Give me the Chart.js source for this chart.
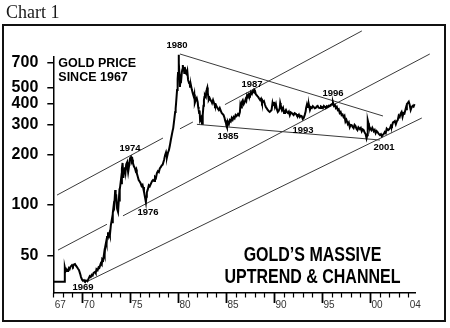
<!DOCTYPE html>
<html>
<head>
<meta charset="utf-8">
<script src="https://cdn.jsdelivr.net/npm/chart.js@4"></script>
<style>
  html, body { margin: 0; padding: 0; background: #fff; }
  canvas { display: block; }
</style>
</head>
<body>
<canvas id="gold" width="450" height="328"></canvas>
<script>
// Gold price since 1967 (US$/oz, log scale): dates as decimal years, prices row for row.
const priceDates = [
  1967.00, 1968.15, 1968.20, 1968.28, 1968.35, 1968.45, 1968.53, 1968.62, 1968.70, 1968.80,
  1968.95, 1969.05, 1969.15, 1969.26, 1969.36, 1969.47, 1969.58, 1969.68, 1969.80, 1969.89,
  1970.00, 1970.10, 1970.20, 1970.30, 1970.40, 1970.55, 1970.68, 1970.80, 1970.90, 1971.00,
  1971.10, 1971.20, 1971.35, 1971.42, 1971.50, 1971.62, 1971.72, 1971.80, 1971.95, 1972.05,
  1972.10, 1972.20, 1972.30, 1972.35, 1972.40, 1972.50, 1972.55, 1972.60, 1972.70, 1972.78,
  1972.85, 1972.90, 1973.00, 1973.10, 1973.15, 1973.20, 1973.30, 1973.35, 1973.45, 1973.50,
  1973.55, 1973.65, 1973.75, 1973.85, 1973.90, 1973.95, 1974.05, 1974.10, 1974.15, 1974.22,
  1974.27, 1974.30, 1974.40, 1974.47, 1974.53, 1974.60, 1974.70, 1974.75, 1974.80, 1974.90,
  1975.00, 1975.10, 1975.18, 1975.25, 1975.30, 1975.40, 1975.50, 1975.58, 1975.65, 1975.70,
  1975.80, 1975.90, 1976.00, 1976.10, 1976.20, 1976.30, 1976.35, 1976.45, 1976.55, 1976.65,
  1976.70, 1976.75, 1976.85, 1976.95, 1977.05, 1977.20, 1977.30, 1977.40, 1977.50, 1977.60,
  1977.70, 1977.80, 1977.90, 1978.00, 1978.10, 1978.20, 1978.30, 1978.40, 1978.45, 1978.55,
  1978.65, 1978.75, 1978.85, 1978.95, 1979.05, 1979.15, 1979.25, 1979.35, 1979.45, 1979.50,
  1979.60, 1979.70, 1979.75, 1979.80, 1979.90, 1979.96, 1980.00, 1980.06, 1980.10, 1980.15,
  1980.20, 1980.25, 1980.30, 1980.40, 1980.45, 1980.50, 1980.55, 1980.60, 1980.65, 1980.70,
  1980.75, 1980.80, 1980.90, 1980.97, 1981.05, 1981.15, 1981.20, 1981.25, 1981.35, 1981.45,
  1981.55, 1981.65, 1981.70, 1981.75, 1981.85, 1981.95, 1982.05, 1982.10, 1982.15, 1982.20,
  1982.25, 1982.30, 1982.40, 1982.45, 1982.50, 1982.55, 1982.60, 1982.65, 1982.70, 1982.75,
  1982.80, 1982.90, 1982.95, 1983.00, 1983.05, 1983.10, 1983.15, 1983.20, 1983.30, 1983.40,
  1983.50, 1983.55, 1983.65, 1983.75, 1983.85, 1983.95, 1984.05, 1984.15, 1984.25, 1984.35,
  1984.45, 1984.55, 1984.65, 1984.75, 1984.85, 1984.90, 1985.00, 1985.05, 1985.10, 1985.15,
  1985.20, 1985.30, 1985.40, 1985.50, 1985.60, 1985.70, 1985.80, 1985.90, 1986.00, 1986.10,
  1986.25, 1986.35, 1986.45, 1986.50, 1986.58, 1986.65, 1986.75, 1986.85, 1986.95, 1987.05,
  1987.12, 1987.20, 1987.30, 1987.40, 1987.50, 1987.60, 1987.70, 1987.80, 1987.90, 1987.95,
  1988.00, 1988.10, 1988.20, 1988.30, 1988.35, 1988.45, 1988.55, 1988.65, 1988.75, 1988.85,
  1988.95, 1989.05, 1989.15, 1989.25, 1989.35, 1989.45, 1989.55, 1989.65, 1989.75, 1989.85,
  1989.90, 1990.00, 1990.10, 1990.20, 1990.30, 1990.40, 1990.50, 1990.60, 1990.65, 1990.70,
  1990.80, 1990.85, 1990.95, 1991.05, 1991.15, 1991.25, 1991.35, 1991.45, 1991.55, 1991.65,
  1991.75, 1991.85, 1991.95, 1992.05, 1992.15, 1992.30, 1992.40, 1992.50, 1992.60, 1992.70,
  1992.80, 1992.90, 1993.00, 1993.10, 1993.20, 1993.30, 1993.35, 1993.45, 1993.55, 1993.65,
  1993.75, 1993.85, 1993.95, 1994.05, 1994.15, 1994.25, 1994.35, 1994.45, 1994.55, 1994.65,
  1994.80, 1994.90, 1995.00, 1995.10, 1995.20, 1995.30, 1995.40, 1995.50, 1995.60, 1995.70,
  1995.80, 1995.90, 1996.05, 1996.15, 1996.25, 1996.35, 1996.45, 1996.55, 1996.65, 1996.75,
  1996.85, 1996.95, 1997.05, 1997.15, 1997.25, 1997.35, 1997.45, 1997.55, 1997.70, 1997.80,
  1997.90, 1998.00, 1998.10, 1998.20, 1998.30, 1998.40, 1998.50, 1998.60, 1998.70, 1998.80,
  1998.95, 1999.05, 1999.15, 1999.25, 1999.35, 1999.45, 1999.55, 1999.65, 1999.72, 1999.75,
  1999.80, 1999.85, 1999.90, 1999.95, 2000.05, 2000.15, 2000.25, 2000.40, 2000.50, 2000.60,
  2000.70, 2000.80, 2000.90, 2001.05, 2001.15, 2001.25, 2001.35, 2001.45, 2001.55, 2001.65,
  2001.75, 2001.90, 2002.00, 2002.10, 2002.20, 2002.30, 2002.40, 2002.50, 2002.60, 2002.70,
  2002.80, 2002.90, 2003.00, 2003.10, 2003.20, 2003.30, 2003.40, 2003.50, 2003.60, 2003.75,
  2003.80, 2003.85, 2003.95, 2004.05, 2004.15, 2004.25, 2004.35, 2004.45, 2004.55, 2004.65
];
const goldPrices = [
  35, 35, 42.5, 40.5, 41.5, 40.6, 41, 42.2, 41.5, 43,
  44, 43.2, 44.3, 44.6, 43.6, 42.8, 41.8, 41, 39, 37.3,
  36, 35.4, 35.8, 35.3, 35.6, 35.2, 36.5, 37.8, 37.3, 38.5,
  38.1, 39.5, 40, 39.4, 41.6, 41, 42.6, 42.3, 45, 44.2,
  47.7, 47, 51.8, 50.5, 56, 60, 58.5, 64.5, 69, 65.5,
  68, 66.3, 76, 82, 79, 89.6, 100, 98, 123, 108,
  116, 95, 91, 112, 105, 123, 141, 135, 165, 178,
  160, 145, 163, 168, 158, 175, 180, 165, 157, 172,
  190, 193, 182, 186, 178, 170, 166, 160, 163, 155,
  148, 141, 138, 135, 130, 132, 128, 120, 112, 104,
  112, 119, 124, 131, 129, 135, 139, 141, 139, 147,
  145, 155, 159, 157, 165, 168, 172, 174, 178, 186,
  198, 206, 193, 205, 212, 226, 244, 261, 279, 287,
  320, 358, 375, 405, 483, 560, 610, 783, 700, 600,
  505, 560, 532, 618, 640, 681, 640, 654, 610, 663,
  640, 610, 600, 625, 555, 532, 545, 505, 515, 483,
  460, 440, 455, 405, 422, 433, 410, 383, 370, 353,
  365, 320, 330, 315, 305, 320, 343, 390, 422, 440,
  451, 440, 475, 490, 500, 464, 445, 422, 433, 420,
  412, 405, 422, 405, 389, 395, 383, 375, 368, 378,
  365, 353, 348, 343, 330, 320, 307, 295, 290, 305,
  312, 303, 320, 315, 330, 322, 334, 328, 343, 338,
  348, 342, 358, 394, 380, 410, 420, 399, 410, 427,
  418, 451, 440, 458, 450, 470, 458, 476, 470, 486,
  483, 458, 450, 443, 440, 430, 422, 430, 405, 412,
  416, 398, 383, 376, 368, 362, 358, 363, 368, 405,
  394, 410, 383, 399, 372, 358, 364, 378, 405, 394,
  375, 368, 378, 353, 360, 368, 357, 353, 360, 343,
  356, 353, 348, 343, 352, 348, 340, 338, 345, 334,
  340, 338, 325, 330, 343, 360, 378, 399, 383, 392,
  368, 382, 378, 388, 383, 376, 378, 386, 389, 380,
  378, 386, 383, 377, 389, 384, 378, 387, 383, 390,
  389, 394, 399, 408, 389, 394, 378, 384, 368, 372,
  353, 358, 343, 346, 334, 340, 314, 322, 303, 310,
  291, 300, 299, 292, 287, 300, 295, 284, 279, 290,
  283, 288, 275, 282, 279, 270, 265, 250, 260, 283,
  320, 307, 298, 291, 285, 279, 288, 275, 280, 268,
  276, 272, 266, 261, 264, 257, 262, 265, 272, 268,
  285, 279, 282, 287, 298, 295, 310, 312, 316, 303,
  315, 320, 340, 334, 350, 358, 335, 353, 350, 378,
  372, 399, 405, 412, 394, 368, 382, 389, 385, 399
];

// Trend lines as [year, price] pairs; null breaks the line where it meets the price.
const channelTop = [[1967.39, 114.7], [1978.43, 250.5], null, [1980.20, 284.2], [1981.55, 312], null, [1984.89, 396], [1999.16, 1086]];
const channelMid = [[1967.49, 54.0], [1972.59, 76.9], null, [1974.26, 86.3], [2006.24, 792]];
const channelLow = [[1970.61, 35.3], [2005.41, 329.6]];
const resistance = [[1980.20, 792], [2001.36, 338.8]];
const support = [[1981.97, 302.2], [2001.04, 243.8]];

// Axis ticks and labels
const yTickValues = [50, 100, 200, 300, 400, 500, 700];
const xLabelYears = [1967, 1970, 1975, 1980, 1985, 1990, 1995, 2000, 2004];
const xFirstYear = 1967;
const xLastYear = 2004;

// Turning-point labels and where they sit (year, price)
const turnLabels = ['1969', '1974', '1976', '1980', '1985', '1987', '1993', '1996', '2001'];
const turnLabelAt = [[1970.10, 32.5], [1974.99, 218], [1976.87, 90.9], [1979.89, 896], [1985.21, 257],
                     [1987.71, 525], [1993.03, 279], [1996.15, 464], [2001.47, 221]];

const toPoints = arr => arr.map(p => p ? { x: p[0], y: p[1] } : { x: null, y: null });
const SANS = '"Liberation Sans", Arial, Helvetica, sans-serif';

const trendStyle = {
  borderColor: '#3a3a3a', borderWidth: 1, pointRadius: 0, tension: 0,
  spanGaps: false, clip: false, order: 1
};

const decor = {
  id: 'decor',
  beforeDraw(chart) {
    const ctx = chart.ctx;
    ctx.save();
    ctx.fillStyle = '#fff';
    ctx.fillRect(0, 0, chart.width, chart.height);
    ctx.fillStyle = '#1a1a1a';
    ctx.font = '18px "Liberation Serif", "Times New Roman", serif';
    ctx.textBaseline = 'alphabetic';
    ctx.textAlign = 'left';
    ctx.fillText('Chart 1', 6, 18);
    ctx.strokeStyle = '#111';
    ctx.lineWidth = 2;
    ctx.strokeRect(3, 25, 442, 296);
    ctx.restore();
  },
  afterDraw(chart) {
    const ctx = chart.ctx;
    const xs = chart.scales.x, ys = chart.scales.y;
    const area = chart.chartArea;
    ctx.save();

    // yearly ticks under the time axis, longer every five years
    ctx.strokeStyle = '#000';
    for (let yr = xFirstYear; yr <= xLastYear; yr++) {
      const px = Math.round(xs.getPixelForValue(yr)) + 0.5;
      const major = yr % 5 === 0;
      ctx.lineWidth = major ? 1.8 : 1.2;
      ctx.beginPath();
      ctx.moveTo(px, area.bottom);
      ctx.lineTo(px, area.bottom + (major ? 10 : 4.5));
      ctx.stroke();
    }
    ctx.fillStyle = '#333';
    ctx.font = '10px ' + SANS;
    ctx.textAlign = 'left';
    ctx.textBaseline = 'middle';
    xLabelYears.forEach(yr => {
      const px = xs.getPixelForValue(yr);
      ctx.fillText(String(yr).slice(2), px + 1.5, area.bottom + 12.5);
    });

    // turning-point labels
    ctx.fillStyle = '#000';
    ctx.font = 'bold 9.5px ' + SANS;
    ctx.textAlign = 'center';
    turnLabels.forEach((t, i) => {
      const [yr, pr] = turnLabelAt[i];
      ctx.fillText(t, xs.getPixelForValue(yr), ys.getPixelForValue(pr));
    });

    // headline texts
    ctx.textAlign = 'left';
    ctx.textBaseline = 'alphabetic';
    ctx.font = 'bold 12.5px ' + SANS;
    ctx.fillText('GOLD PRICE', area.left + 5, area.top + 10);
    ctx.fillText('SINCE 1967', area.left + 5, area.top + 23.5);

    ctx.font = 'bold 19.5px ' + SANS;
    ctx.textAlign = 'center';
    const cx = 312.5;
    ctx.translate(cx, 0);
    ctx.scale(0.82, 1);
    ctx.fillText('GOLD\u2019S MASSIVE', 0, 261);
    ctx.fillText('UPTREND & CHANNEL', 0, 283);
    ctx.restore();
  }
};

new Chart(document.getElementById('gold'), {
  type: 'line',
  data: {
    datasets: [
      {
        label: 'Gold price',
        data: priceDates.map((d, i) => ({ x: d, y: goldPrices[i] })),
        borderColor: '#000', borderWidth: 2, pointRadius: 0, tension: 0,
        clip: false, order: 0
      },
      { label: 'Channel top', data: toPoints(channelTop), ...trendStyle },
      { label: 'Channel middle', data: toPoints(channelMid), ...trendStyle },
      { label: 'Channel bottom', data: toPoints(channelLow), ...trendStyle },
      { label: 'Resistance from 1980', data: toPoints(resistance), ...trendStyle },
      { label: 'Support from 1982', data: toPoints(support), ...trendStyle }
    ]
  },
  options: {
    responsive: false,
    animation: false,
    devicePixelRatio: 1,
    layout: { padding: { left: 0, top: 57, right: 35, bottom: 0 } },
    plugins: { legend: { display: false }, tooltip: { enabled: false } },
    scales: {
      x: {
        type: 'linear', min: 1967, max: 2004.7,
        ticks: { display: false },
        grid: { display: false },
        border: { display: true, color: '#000', width: 1.5 },
        afterFit: s => { s.height = 35; }
      },
      y: {
        type: 'logarithmic', min: 30, max: 760,
        afterBuildTicks: s => { s.ticks = yTickValues.map(v => ({ value: v })); },
        ticks: {
          autoSkip: false,
          callback: v => String(v),
          color: '#000',
          padding: 9,
          font: { family: SANS, size: 16, weight: 'bold' }
        },
        grid: { drawOnChartArea: false, drawTicks: true, tickLength: 6, color: '#000', lineWidth: 1.5 },
        border: { display: true, color: '#000', width: 1.5 },
        afterFit: s => { s.width = 53.3; }
      }
    }
  },
  plugins: [decor]
});
</script>
</body>
</html>
